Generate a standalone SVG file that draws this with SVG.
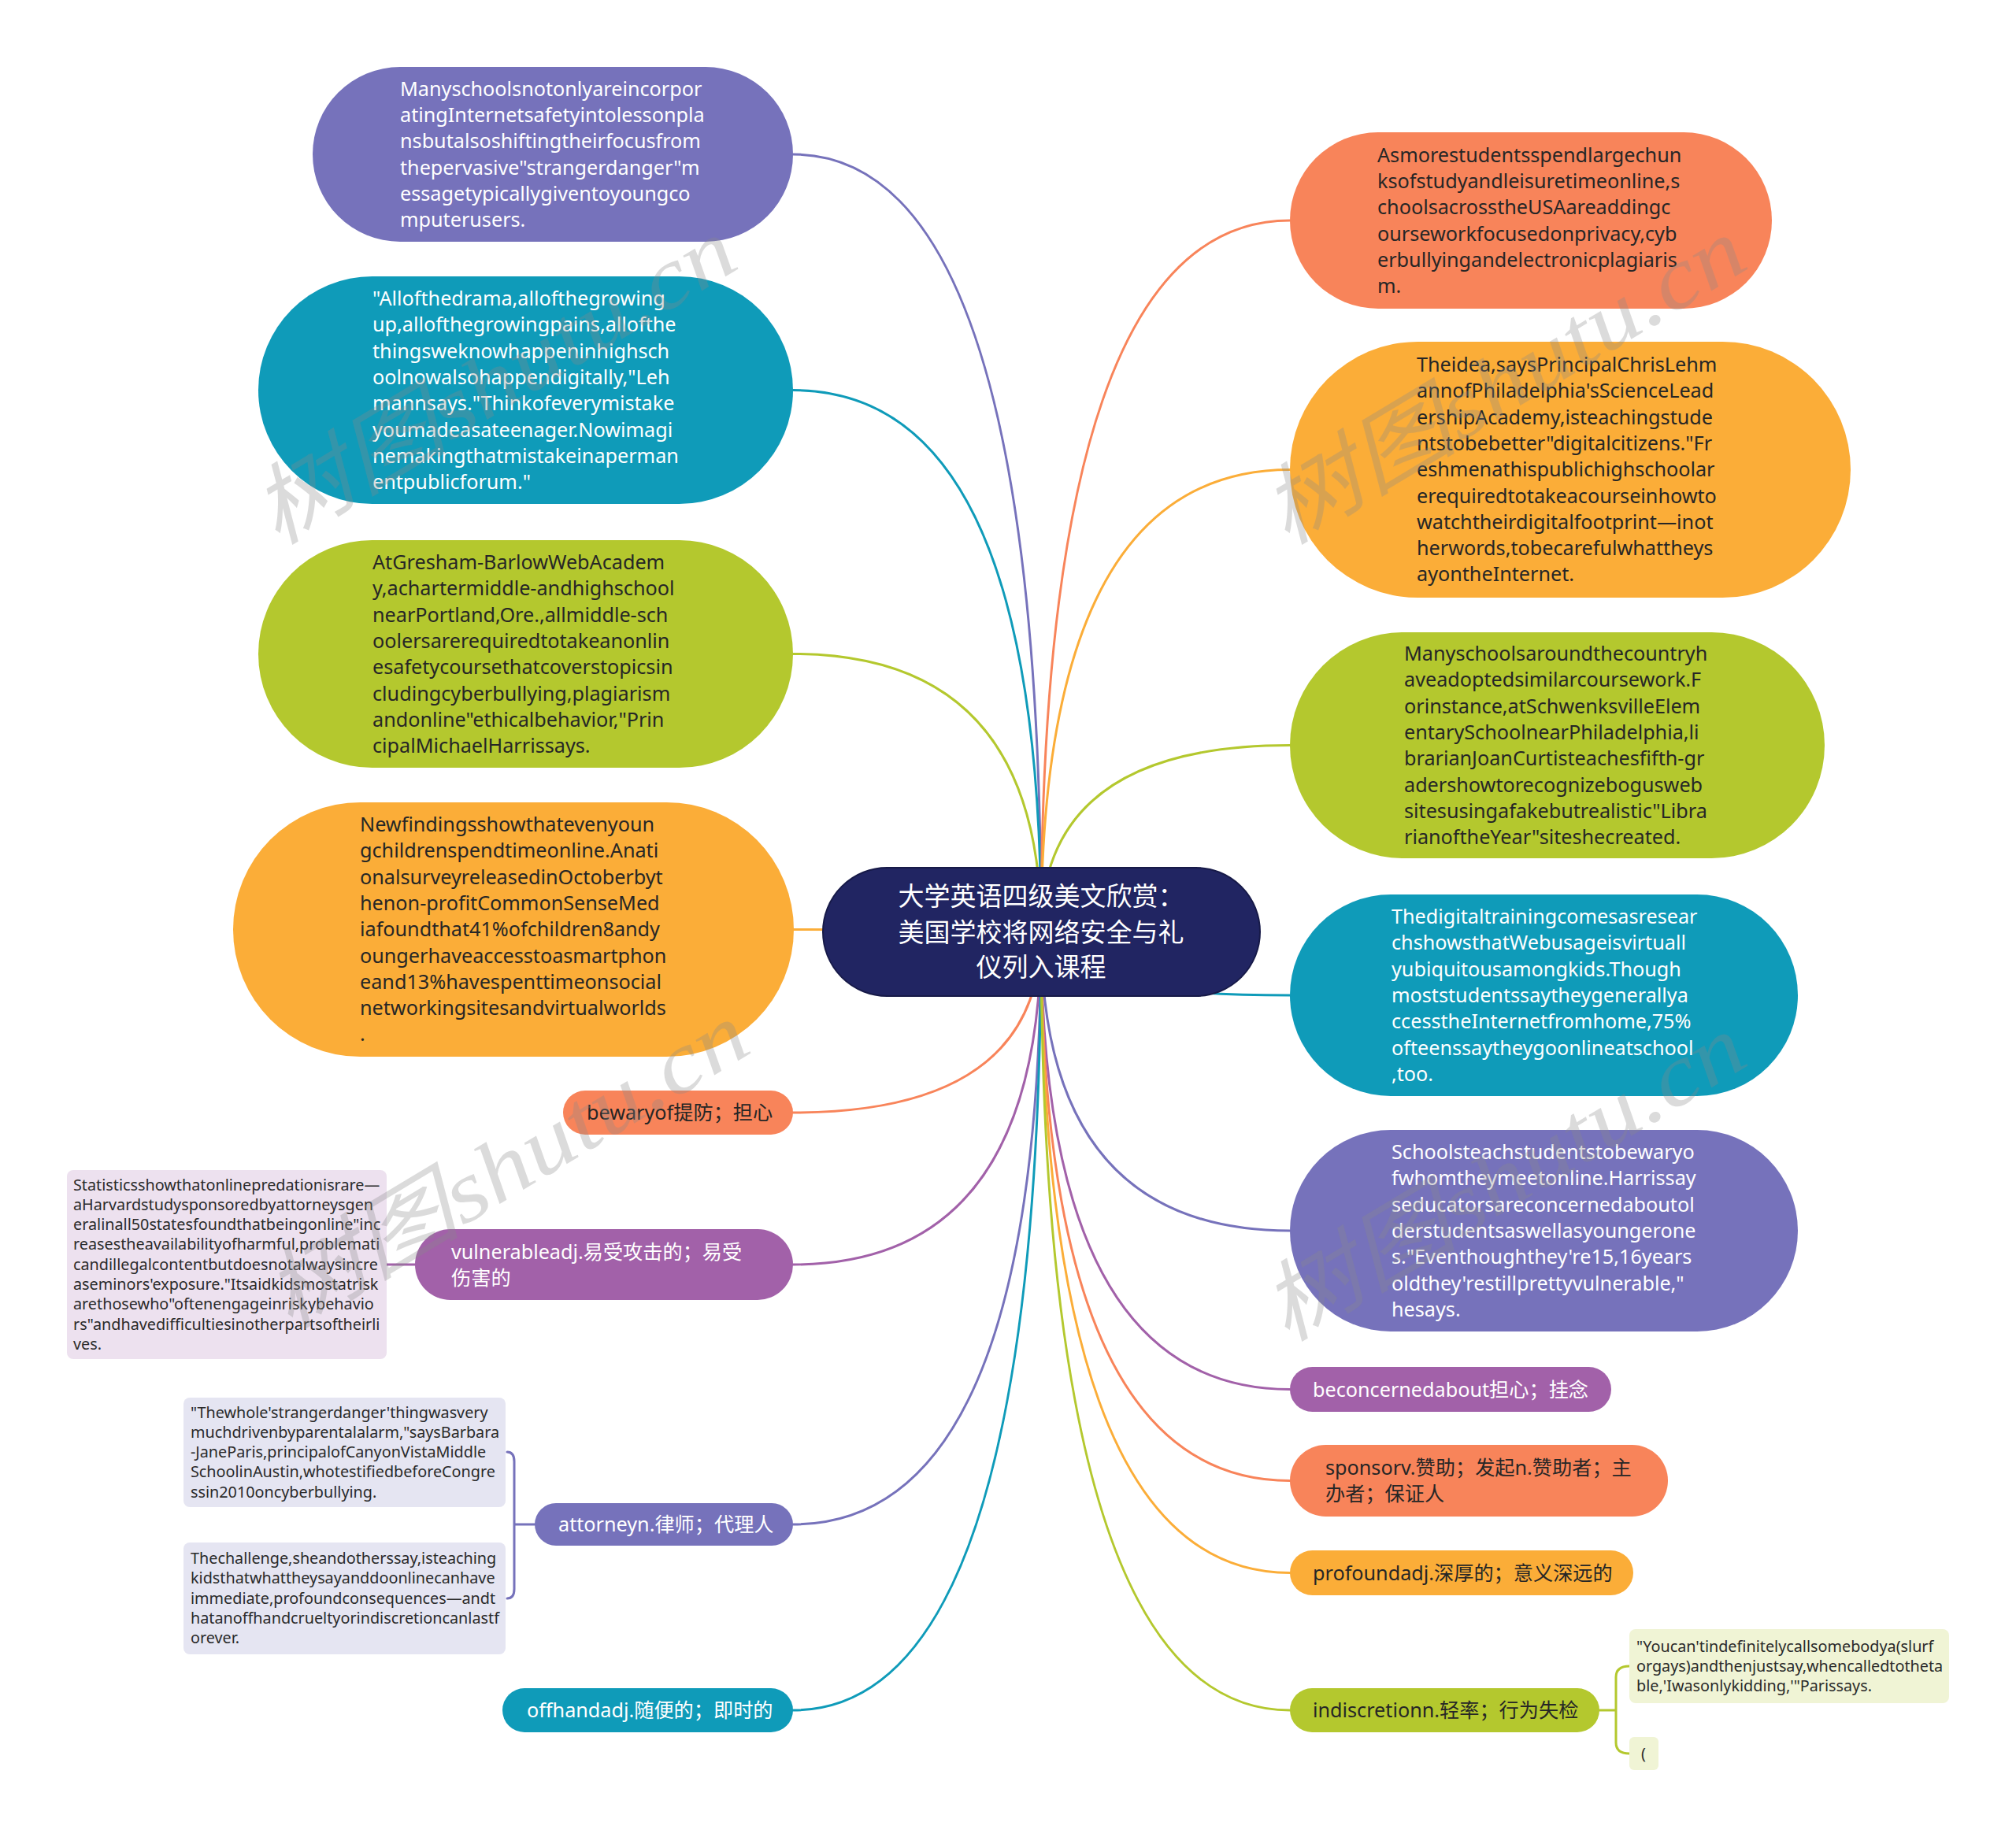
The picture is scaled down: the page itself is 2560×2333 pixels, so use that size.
<svg xmlns="http://www.w3.org/2000/svg" width="2560" height="2333" viewBox="0 0 2560 2333">
<style>
.t{font-family:"Noto Sans","Noto Sans CJK SC",sans-serif;font-size:25.2px}
.ts{font-family:"Noto Sans","Noto Sans CJK SC",sans-serif;font-size:19.8px;fill:#2a2a2a}
.tw{fill:#ffffff}
.td{fill:#262626}
.purple{fill:#7672BB}
.teal{fill:#0F9BB9}
.lime{fill:#B4C82E}
.amber{fill:#FBAD38}
.coral{fill:#F8845A}
.mag{fill:#A261A9}
.c{fill:none;stroke-width:3;stroke-linecap:round}
.cp{stroke:#7672BB}.ct{stroke:#0F9BB9}.cl{stroke:#B4C82E}.ca{stroke:#FBAD38}.cc{stroke:#F8845A}.cm{stroke:#A261A9}
.wm{font-family:"Liberation Serif","Noto Sans CJK SC",serif;font-style:italic;font-size:110px;fill:#8a8a8a;opacity:0.3}
</style>
<rect x="0" y="0" width="2560" height="2333" fill="#ffffff"/>
<g id="connectors">
<path class="c cp" d="M1322,1183 Q1322,196 1007,196"/>
<path class="c ct" d="M1322,1183 Q1322,495.5 1007,495.5"/>
<path class="c cl" d="M1322,1183 Q1322,830.5 1007,830.5"/>
<path class="c ca" d="M1322,1183 Q1322,1180.5 1008,1180.5"/>
<path class="c cc" d="M1322,1183 Q1322,1413 1007,1413"/>
<path class="c cm" d="M1322,1183 Q1322,1606 1007,1606"/>
<path class="c cp" d="M1322,1183 Q1322,1936 1007,1936"/>
<path class="c ct" d="M1322,1183 Q1322,2172 1007,2172"/>
<path class="c cc" d="M1322,1183 Q1322,280 1638,280"/>
<path class="c ca" d="M1322,1183 Q1322,596.5 1638,596.5"/>
<path class="c cl" d="M1322,1183 Q1322,946.5 1638,946.5"/>
<path class="c ct" d="M1322,1183 Q1322,1264 1638,1264"/>
<path class="c cp" d="M1322,1183 Q1322,1563 1638,1563"/>
<path class="c cm" d="M1322,1183 Q1322,1764.5 1638,1764.5"/>
<path class="c cc" d="M1322,1183 Q1322,1880.5 1638,1880.5"/>
<path class="c ca" d="M1322,1183 Q1322,1997.5 1638,1997.5"/>
<path class="c cl" d="M1322,1183 Q1322,2172 1638,2172"/>
<path class="c cm" d="M491,1606 L527,1606"/>
<path class="c cp" d="M644,1844 Q653,1844 653,1856 L653,2018 Q653,2030 644,2030 M653,1936 L679,1936"/>
<path class="c cl" d="M2069,2116 Q2052,2116 2052,2130 L2052,2213 Q2052,2227 2069,2227 M2031,2172 L2052,2172"/>
</g>
<g id="root">
<rect x="1045" y="1102" width="555" height="163" rx="81.5" fill="#212562" stroke="#171a48" stroke-width="2"/>
<text x="1322" y="1150" text-anchor="middle" style="font-family:'Noto Sans CJK SC',sans-serif;font-size:33px;fill:#fff">大学英语四级美文欣赏：</text>
<text x="1322" y="1196" text-anchor="middle" style="font-family:'Noto Sans CJK SC',sans-serif;font-size:33px;fill:#fff">美国学校将网络安全与礼</text>
<text x="1322" y="1240" text-anchor="middle" style="font-family:'Noto Sans CJK SC',sans-serif;font-size:33px;fill:#fff">仪列入课程</text>
</g>
<g id="n-l1">
<rect class="purple" x="397" y="85" width="610" height="222" rx="111"/>
<text class="t tw" x="508"><tspan x="508" y="121.7">Manyschoolsnotonlyareincorpor</tspan><tspan x="508" y="155">atingInternetsafetyintolessonpla</tspan><tspan x="508" y="188.3">nsbutalsoshiftingtheirfocusfrom</tspan><tspan x="508" y="221.6">thepervasive"strangerdanger"m</tspan><tspan x="508" y="254.9">essagetypicallygiventoyoungco</tspan><tspan x="508" y="288.2">mputerusers.</tspan></text>
</g>
<g id="n-l2">
<rect class="teal" x="328" y="351" width="679" height="289" rx="144.5"/>
<text class="t tw"><tspan x="473" y="388">"Allofthedrama,allofthegrowing</tspan><tspan x="473" y="421.3">up,allofthegrowingpains,allofthe</tspan><tspan x="473" y="454.6">thingsweknowhappeninhighsch</tspan><tspan x="473" y="487.9">oolnowalsohappendigitally,"Leh</tspan><tspan x="473" y="521.2">mannsays."Thinkofeverymistake</tspan><tspan x="473" y="554.5">youmadeasateenager.Nowimagi</tspan><tspan x="473" y="587.8">nemakingthatmistakeinaperman</tspan><tspan x="473" y="621.1">entpublicforum."</tspan></text>
</g>
<g id="n-l3">
<rect class="lime" x="328" y="686" width="679" height="289" rx="144.5"/>
<text class="t td"><tspan x="473" y="723">AtGresham-BarlowWebAcadem</tspan><tspan x="473" y="756.3">y,achartermiddle-andhighschool</tspan><tspan x="473" y="789.6">nearPortland,Ore.,allmiddle-sch</tspan><tspan x="473" y="822.9">oolersarerequiredtotakeanonlin</tspan><tspan x="473" y="856.2">esafetycoursethatcoverstopicsin</tspan><tspan x="473" y="889.5">cludingcyberbullying,plagiarism</tspan><tspan x="473" y="922.8">andonline"ethicalbehavior,"Prin</tspan><tspan x="473" y="956.1">cipalMichaelHarrissays.</tspan></text>
</g>
<g id="n-l4">
<rect class="amber" x="296" y="1019" width="712" height="323" rx="161.5"/>
<text class="t td"><tspan x="457" y="1056">Newfindingsshowthatevenyoun</tspan><tspan x="457" y="1089.3">gchildrenspendtimeonline.Anati</tspan><tspan x="457" y="1122.6">onalsurveyreleasedinOctoberbyt</tspan><tspan x="457" y="1155.9">henon-profitCommonSenseMed</tspan><tspan x="457" y="1189.2">iafoundthat41%ofchildren8andy</tspan><tspan x="457" y="1222.5">oungerhaveaccesstoasmartphon</tspan><tspan x="457" y="1255.8">eand13%havespenttimeonsocial</tspan><tspan x="457" y="1289.1">networkingsitesandvirtualworlds</tspan><tspan x="457" y="1322.4">.</tspan></text>
</g>
<g id="n-l5">
<rect class="coral" x="715" y="1385" width="292" height="56" rx="28"/>
<text class="t td" x="745" y="1422">bewaryof提防；担心</text>
</g>
<g id="n-l6">
<rect class="mag" x="527" y="1561" width="480" height="90" rx="45"/>
<text class="t tw"><tspan x="573" y="1598.5">vulnerableadj.易受攻击的；易受</tspan><tspan x="573" y="1631.8">伤害的</tspan></text>
</g>
<g id="n-l6a">
<rect x="85" y="1486" width="406" height="240" rx="8" fill="#EDE1EF"/>
<text class="ts"><tspan x="93" y="1511.5">Statisticsshowthatonlinepredationisrare—</tspan><tspan x="93" y="1536.8">aHarvardstudysponsoredbyattorneysgen</tspan><tspan x="93" y="1562.1">eralinall50statesfoundthatbeingonline"inc</tspan><tspan x="93" y="1587.4">reasestheavailabilityofharmful,problemati</tspan><tspan x="93" y="1612.7">candillegalcontentbutdoesnotalwaysincre</tspan><tspan x="93" y="1638">aseminors'exposure."Itsaidkidsmostatrisk</tspan><tspan x="93" y="1663.3">arethosewho"oftenengageinriskybehavio</tspan><tspan x="93" y="1688.6">rs"andhavedifficultiesinotherpartsoftheirli</tspan><tspan x="93" y="1713.9">ves.</tspan></text>
</g>
<g id="n-l7">
<rect class="purple" x="679" y="1909" width="328" height="54" rx="27"/>
<text class="t tw" x="709" y="1945">attorneyn.律师；代理人</text>
</g>
<g id="n-l7a">
<rect x="233" y="1775" width="409" height="139" rx="8" fill="#E5E5F2"/>
<text class="ts"><tspan x="242" y="1800.5">"Thewhole'strangerdanger'thingwasvery</tspan><tspan x="242" y="1825.8">muchdrivenbyparentalalarm,"saysBarbara</tspan><tspan x="242" y="1851.1">-JaneParis,principalofCanyonVistaMiddle</tspan><tspan x="242" y="1876.4">SchoolinAustin,whotestifiedbeforeCongre</tspan><tspan x="242" y="1901.7">ssin2010oncyberbullying.</tspan></text>
</g>
<g id="n-l7b">
<rect x="233" y="1959" width="409" height="142" rx="8" fill="#E5E5F2"/>
<text class="ts"><tspan x="242" y="1986">Thechallenge,sheandotherssay,isteaching</tspan><tspan x="242" y="2011.3">kidsthatwhattheysayanddoonlinecanhave</tspan><tspan x="242" y="2036.6">immediate,profoundconsequences—andt</tspan><tspan x="242" y="2061.9">hatanoffhandcrueltyorindiscretioncanlastf</tspan><tspan x="242" y="2087.2">orever.</tspan></text>
</g>
<g id="n-l8">
<rect class="teal" x="638" y="2144" width="369" height="56" rx="28"/>
<text class="t tw" x="669" y="2181">offhandadj.随便的；即时的</text>
</g>
<g id="n-r1">
<rect class="coral" x="1638" y="168" width="612" height="224" rx="112"/>
<text class="t td"><tspan x="1749" y="205.7">Asmorestudentsspendlargechun</tspan><tspan x="1749" y="239">ksofstudyandleisuretimeonline,s</tspan><tspan x="1749" y="272.3">choolsacrosstheUSAareaddingc</tspan><tspan x="1749" y="305.6">ourseworkfocusedonprivacy,cyb</tspan><tspan x="1749" y="338.9">erbullyingandelectronicplagiaris</tspan><tspan x="1749" y="372.2">m.</tspan></text>
</g>
<g id="n-r2">
<rect class="amber" x="1638" y="434" width="712" height="325" rx="162.5"/>
<text class="t td"><tspan x="1799" y="472">Theidea,saysPrincipalChrisLehm</tspan><tspan x="1799" y="505.3">annofPhiladelphia'sScienceLead</tspan><tspan x="1799" y="538.6">ershipAcademy,isteachingstude</tspan><tspan x="1799" y="571.9">ntstobebetter"digitalcitizens."Fr</tspan><tspan x="1799" y="605.2">eshmenathispublichighschoolar</tspan><tspan x="1799" y="638.5">erequiredtotakeacourseinhowto</tspan><tspan x="1799" y="671.8">watchtheirdigitalfootprint—inot</tspan><tspan x="1799" y="705.1">herwords,tobecarefulwhattheys</tspan><tspan x="1799" y="738.4">ayontheInternet.</tspan></text>
</g>
<g id="n-r3">
<rect class="lime" x="1638" y="803" width="679" height="287" rx="143.5"/>
<text class="t td"><tspan x="1783" y="839">Manyschoolsaroundthecountryh</tspan><tspan x="1783" y="872.3">aveadoptedsimilarcoursework.F</tspan><tspan x="1783" y="905.6">orinstance,atSchwenksvilleElem</tspan><tspan x="1783" y="938.9">entarySchoolnearPhiladelphia,li</tspan><tspan x="1783" y="972.2">brarianJoanCurtisteachesfifth-gr</tspan><tspan x="1783" y="1005.5">adershowtorecognizebogusweb</tspan><tspan x="1783" y="1038.8">sitesusingafakebutrealistic"Libra</tspan><tspan x="1783" y="1072.1">rianoftheYear"siteshecreated.</tspan></text>
</g>
<g id="n-r4">
<rect class="teal" x="1638" y="1136" width="645" height="256" rx="128"/>
<text class="t tw"><tspan x="1767" y="1173">Thedigitaltrainingcomesasresear</tspan><tspan x="1767" y="1206.3">chshowsthatWebusageisvirtuall</tspan><tspan x="1767" y="1239.6">yubiquitousamongkids.Though</tspan><tspan x="1767" y="1272.9">moststudentssaytheygenerallya</tspan><tspan x="1767" y="1306.2">ccesstheInternetfromhome,75%</tspan><tspan x="1767" y="1339.5">ofteenssaytheygoonlineatschool</tspan><tspan x="1767" y="1372.8">,too.</tspan></text>
</g>
<g id="n-r5">
<rect class="purple" x="1638" y="1435" width="645" height="256" rx="128"/>
<text class="t tw"><tspan x="1767" y="1472">Schoolsteachstudentstobewaryo</tspan><tspan x="1767" y="1505.3">fwhomtheymeetonline.Harrissay</tspan><tspan x="1767" y="1538.6">seducatorsareconcernedaboutol</tspan><tspan x="1767" y="1571.9">derstudentsaswellasyoungerone</tspan><tspan x="1767" y="1605.2">s."Eventhoughthey're15,16years</tspan><tspan x="1767" y="1638.5">oldthey'restillprettyvulnerable,"</tspan><tspan x="1767" y="1671.8">hesays.</tspan></text>
</g>
<g id="n-r6">
<rect class="mag" x="1638" y="1736" width="408" height="57" rx="28.5"/>
<text class="t tw" x="1667" y="1773.5">beconcernedabout担心；挂念</text>
</g>
<g id="n-r7">
<rect class="coral" x="1638" y="1835" width="480" height="91" rx="45.5"/>
<text class="t td"><tspan x="1683" y="1873">sponsorv.赞助；发起n.赞助者；主</tspan><tspan x="1683" y="1906.3">办者；保证人</tspan></text>
</g>
<g id="n-r8">
<rect class="amber" x="1638" y="1969" width="436" height="57" rx="28.5"/>
<text class="t td" x="1667" y="2006.5">profoundadj.深厚的；意义深远的</text>
</g>
<g id="n-r9">
<rect class="lime" x="1638" y="2144" width="393" height="56" rx="28"/>
<text class="t td" x="1667" y="2181">indiscretionn.轻率；行为失检</text>
</g>
<g id="n-r9a">
<rect x="2069" y="2069" width="406" height="94" rx="8" fill="#F0F4D5"/>
<text class="ts"><tspan x="2078" y="2097.5">"Youcan'tindefinitelycallsomebodya(slurf</tspan><tspan x="2078" y="2122.8">orgays)andthenjustsay,whencalledtotheta</tspan><tspan x="2078" y="2148.1">ble,'Iwasonlykidding,'"Parissays.</tspan></text>
</g>
<g id="n-r9b">
<rect x="2069" y="2206" width="37" height="42" rx="6" fill="#F0F4D5"/>
<text class="ts" x="2084" y="2234">(</text>
</g>
<g id="watermarks">
<text class="wm" transform="translate(351,694) rotate(-31)" textLength="690" lengthAdjust="spacingAndGlyphs">树图shutu.cn</text>
<text class="wm" transform="translate(1633,694) rotate(-31)" textLength="690" lengthAdjust="spacingAndGlyphs">树图shutu.cn</text>
<text class="wm" transform="translate(367,1690) rotate(-31)" textLength="690" lengthAdjust="spacingAndGlyphs">树图shutu.cn</text>
<text class="wm" transform="translate(1633,1706) rotate(-31)" textLength="690" lengthAdjust="spacingAndGlyphs">树图shutu.cn</text>
</g>
</svg>
